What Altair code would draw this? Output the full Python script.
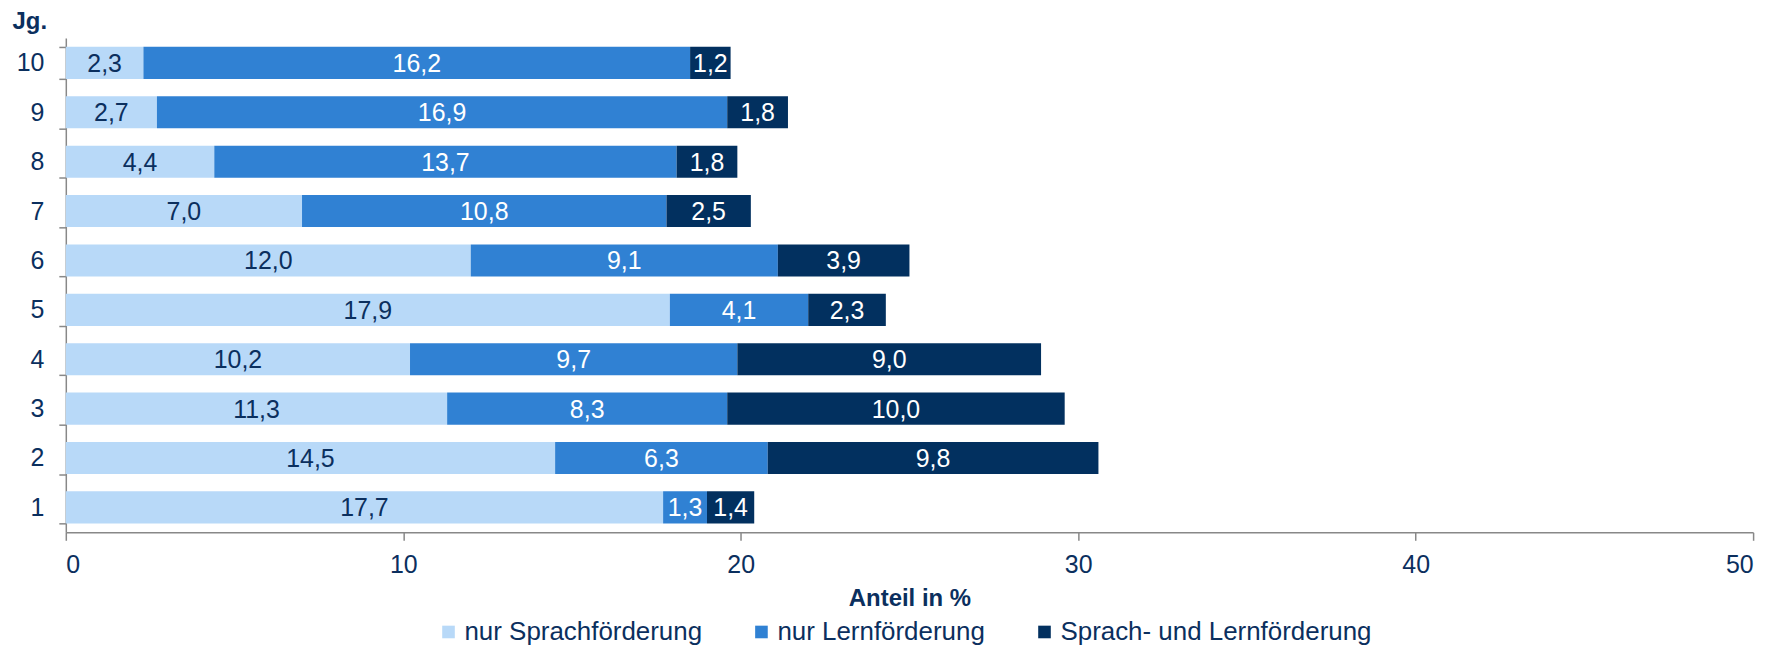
import altair as alt
import pandas as pd

jg = ["10", "9", "8", "7", "6", "5", "4", "3", "2", "1"]
series = ["nur Sprachförderung", "nur Lernförderung", "Sprach- und Lernförderung"]
sprach = [2.3, 2.7, 4.4, 7.0, 12.0, 17.9, 10.2, 11.3, 14.5, 17.7]
lern = [16.2, 16.9, 13.7, 10.8, 9.1, 4.1, 9.7, 8.3, 6.3, 1.3]
beide = [1.2, 1.8, 1.8, 2.5, 3.9, 2.3, 9.0, 10.0, 9.8, 1.4]
colors = ["#B8D9F8", "#3081D3", "#02305F"]
navy = "#0B2F5E"

rows = []
for vals, (si, s) in zip([sprach, lern, beide], enumerate(series)):
    for j, v in zip(jg, vals):
        rows.append({"jg": j, "series": s, "order": si, "value": v,
                     "label": f"{v:.1f}".replace(".", ",")})
df = pd.DataFrame(rows)

font = "Liberation Sans, Arial, sans-serif"
fs = 25

base = alt.Chart(df)

ysc = alt.Y("jg:N", sort=jg,
            scale=alt.Scale(paddingInner=0.35, paddingOuter=0.18),
            axis=alt.Axis(title="Jg.", titleAngle=0, titleAlign="left",
                          titleBaseline="alphabetic", titleX=-54, titleY=-10,
                          titleFontSize=24, titleFontWeight="bold", titleColor=navy,
                          titleFont=font, labelFont=font, labelFontSize=fs,
                          labelColor=navy, labelPadding=15, tickSize=7,
                          tickBand="extent", tickColor="#888888",
                          domainColor="#888888", domainWidth=1.5, tickWidth=1.5,
                          grid=False))

bars = base.mark_bar().encode(
    x=alt.X("value:Q", stack="zero",
            scale=alt.Scale(domain=[0, 50], nice=False),
            axis=alt.Axis(title="Anteil in %", values=[0, 10, 20, 30, 40, 50],
                          titleFont=font, titleFontSize=24, titleFontWeight="bold",
                          titleColor=navy, titlePadding=9,
                          labelFont=font, labelFontSize=fs, labelColor=navy,
                          tickSize=8, labelPadding=12, tickColor="#888888",
                          domainColor="#888888", domainWidth=1.5, tickWidth=1.5,
                          grid=False, format="d")),
    y=ysc,
    color=alt.Color("series:N", sort=series,
                    scale=alt.Scale(domain=series, range=colors),
                    legend=alt.Legend(title=None, orient="none", direction="horizontal",
                                      legendX=371, legendY=583,
                                      symbolType="square", symbolSize=160,
                                      symbolStrokeWidth=0, labelFont=font,
                                      labelFontSize=26, labelColor=navy,
                                      labelLimit=0, labelOffset=3, columnPadding=46,
                                      padding=0)),
    order=alt.Order("order:Q"),
)

texts = base.transform_stack(
    stack="value", groupby=["jg"], as_=["x0", "x1"],
    sort=[alt.SortField("order", order="ascending")]
).transform_calculate(
    mid="(datum.x0 + datum.x1) / 2"
).mark_text(font=font, fontSize=fs, baseline="middle", align="center", dy=1).encode(
    x=alt.X("mid:Q"),
    y=alt.Y("jg:N", sort=jg),
    text="label:N",
    color=alt.condition(alt.datum.series == "nur Sprachförderung",
                        alt.value(navy), alt.value("white")),
)

chart = alt.layer(bars, texts).properties(
    width=1693, height=496,
    autosize=alt.AutoSizeParams(type="none"),
    padding={"left": 58, "top": 29, "right": 30, "bottom": 118},
).configure_view(stroke=None)

chart.save("out.html", embed_options={"renderer": "svg", "actions": False})
